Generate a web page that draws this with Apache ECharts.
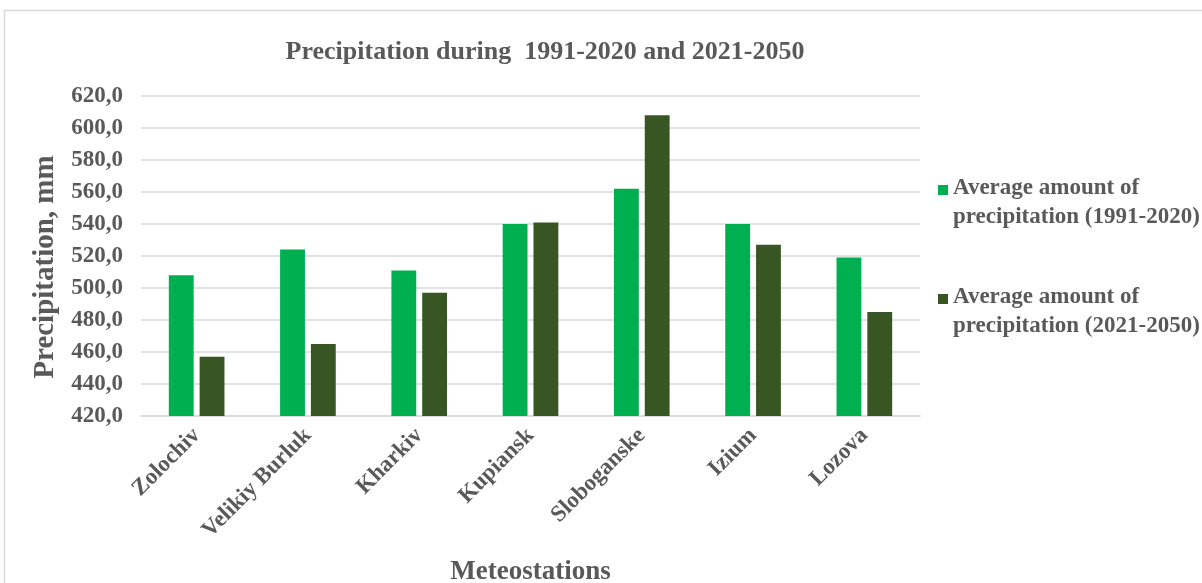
<!DOCTYPE html>
<html lang="en">
<head>
    <meta charset="UTF-8">
    <title>Precipitation</title>
    <style>
        html, body { margin:0; padding:0; background:#fff; }
        #main { width:1202px; height:583px; }
    </style>
    <script src="https://cdn.jsdelivr.net/npm/echarts@6/dist/echarts.min.js"></script>
</head>
<body>
<div id="main"></div>
<script type="text/javascript">
    // stations and values
    var stations = ['Zolochiv', 'Velikiy Burluk', 'Kharkiv', 'Kupiansk', 'Sloboganske', 'Izium', 'Lozova'];
    var past = [508, 524, 511, 540, 562, 540, 519];      // 1991-2020
    var future = [457, 465, 497, 541, 608, 527, 485];    // 2021-2050
    var yTicks = [420, 440, 460, 480, 500, 520, 540, 560, 580, 600, 620];

    var font = 'Liberation Serif';
    var grey = '#595959';
    // square icon at the top of a taller box, so it sits beside the first text line
    var topIcon = 'path://M0,0L10,0L10,10L0,10Z M0,36L0.01,36L0.01,36Z';

    var myChart = echarts.init(document.getElementById('main'));
    var option = {
        animation: false,
        graphic: [{
            type: 'rect',
            shape: { x: 4.5, y: 10.5, width: 1220, height: 600 },
            style: { fill: 'none', stroke: '#d9d9d9', lineWidth: 1.5 },
            silent: true
        }],
        title: {
            text: 'Precipitation during  1991-2020 and 2021-2050',
            left: 540, textAlign: 'center', top: 34,
            textStyle: { fontFamily: font, fontWeight: 'bold', fontSize: 26, color: grey }
        },
        legend: {
            orient: 'vertical',
            left: 933, top: 169,
            itemGap: 51,
            itemWidth: 10, itemHeight: 36,
            icon: topIcon,
            formatter: function (name) {
                return name.replace(' of precipitation', ' of\nprecipitation');
            },
            textStyle: { fontFamily: font, fontWeight: 'bold', fontSize: 23, color: grey, lineHeight: 29 }
        },
        grid: { left: 141, right: 282, top: 96, bottom: 167, outerBoundsMode: 'none' },
        xAxis: {
            type: 'category',
            data: stations,
            name: 'Meteostations',
            nameLocation: 'middle',
            nameGap: 143,
            nameTextStyle: { fontFamily: font, fontWeight: 'bold', fontSize: 27, color: grey },
            axisLine: { lineStyle: { color: '#d9d9d9', width: 1.5 } },
            axisTick: { show: false },
            axisLabel: {
                rotate: 45, margin: 16, interval: 0,
                fontFamily: font, fontWeight: 'bold', fontSize: 23, color: grey
            }
        },
        yAxis: {
            type: 'value',
            min: yTicks[0], max: yTicks[yTicks.length - 1], interval: 20,
            name: 'Precipitation, mm',
            nameLocation: 'middle',
            nameGap: 80,
            nameTextStyle: { fontFamily: font, fontWeight: 'bold', fontSize: 29, color: grey, padding: [0, 22, 0, 0] },
            axisLine: { show: false },
            axisTick: { show: false },
            splitLine: { lineStyle: { color: '#d9d9d9', width: 1.5 } },
            axisLabel: {
                margin: 18,
                fontFamily: font, fontWeight: 'bold', fontSize: 23, color: grey,
                formatter: function (v) { return v.toFixed(1).replace('.', ','); }
            }
        },
        series: [{
            name: 'Average amount of precipitation (1991-2020)',
            type: 'bar',
            data: past,
            barGap: '24%',
            barCategoryGap: '50%',
            itemStyle: { color: '#00b050' }
        }, {
            name: 'Average amount of precipitation (2021-2050)',
            type: 'bar',
            data: future,
            itemStyle: { color: '#375623' }
        }]
    };
    myChart.setOption(option);
</script>
</body>
</html>
